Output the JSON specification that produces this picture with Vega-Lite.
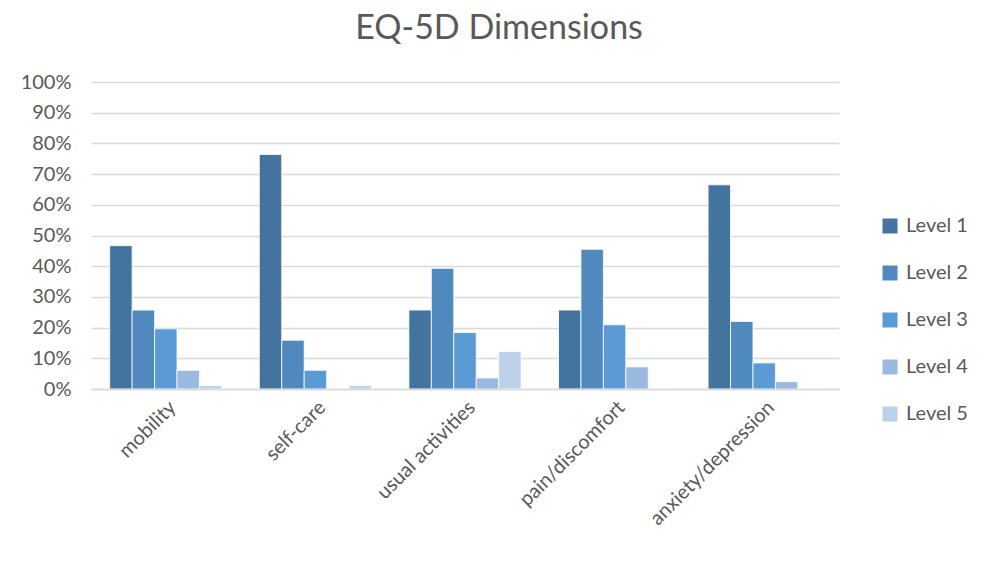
{
  "$schema": "https://vega.github.io/schema/vega-lite/v6.json",
  "width": 748,
  "height": 307,
  "padding": {"left": 20, "top": 12, "right": 5, "bottom": 5},
  "background": "white",
  "title": {"text": "EQ-5D Dimensions", "fontSize": 34, "font": "Lato", "fontWeight": "normal", "color": "#595959", "offset": 26, "dx": 34},
  "config": {"view": {"stroke": null}, "font": "Lato"},
  "data": {"values": [
    {"dim": "mobility", "level": "Level 1", "v": 0.467},
    {"dim": "mobility", "level": "Level 2", "v": 0.257},
    {"dim": "mobility", "level": "Level 3", "v": 0.196},
    {"dim": "mobility", "level": "Level 4", "v": 0.061},
    {"dim": "mobility", "level": "Level 5", "v": 0.011},
    {"dim": "self-care", "level": "Level 1", "v": 0.764},
    {"dim": "self-care", "level": "Level 2", "v": 0.159},
    {"dim": "self-care", "level": "Level 3", "v": 0.061},
    {"dim": "self-care", "level": "Level 4", "v": 0},
    {"dim": "self-care", "level": "Level 5", "v": 0.011},
    {"dim": "usual activities", "level": "Level 1", "v": 0.257},
    {"dim": "usual activities", "level": "Level 2", "v": 0.393},
    {"dim": "usual activities", "level": "Level 3", "v": 0.184},
    {"dim": "usual activities", "level": "Level 4", "v": 0.036},
    {"dim": "usual activities", "level": "Level 5", "v": 0.122},
    {"dim": "pain/discomfort", "level": "Level 1", "v": 0.257},
    {"dim": "pain/discomfort", "level": "Level 2", "v": 0.455},
    {"dim": "pain/discomfort", "level": "Level 3", "v": 0.209},
    {"dim": "pain/discomfort", "level": "Level 4", "v": 0.072},
    {"dim": "pain/discomfort", "level": "Level 5", "v": 0},
    {"dim": "anxiety/depression", "level": "Level 1", "v": 0.665},
    {"dim": "anxiety/depression", "level": "Level 2", "v": 0.220},
    {"dim": "anxiety/depression", "level": "Level 3", "v": 0.085},
    {"dim": "anxiety/depression", "level": "Level 4", "v": 0.024},
    {"dim": "anxiety/depression", "level": "Level 5", "v": 0}
  ]},
  "mark": {"type": "bar", "stroke": "white", "strokeWidth": 0.8},
  "encoding": {
    "x": {
      "field": "dim", "type": "nominal", "sort": null, "title": null,
      "scale": {"paddingInner": 0.25, "paddingOuter": 0.125},
      "axis": {"labelAngle": -45, "labelFontSize": 20, "labelColor": "#595959", "ticks": false, "domainColor": "#D9D9D9", "domainWidth": 1.5, "labelPadding": 8, "labelFont": "Lato", "labelOverlap": false, "zindex": 1}
    },
    "xOffset": {"field": "level", "type": "nominal", "sort": null},
    "y": {
      "field": "v", "type": "quantitative", "title": null,
      "scale": {"domain": [0, 1]},
      "axis": {"format": ".0%", "values": [0,0.1,0.2,0.3,0.4,0.5,0.6,0.7,0.8,0.9,1], "labelOverlap": false, "labelFontSize": 20, "labelColor": "#595959", "ticks": false, "domain": false, "gridColor": "#D9D9D9", "gridWidth": 1.5, "labelPadding": 20, "labelFont": "Lato"}
    },
    "color": {
      "field": "level", "type": "nominal", "title": null,
      "scale": {"domain": ["Level 1", "Level 2", "Level 3", "Level 4", "Level 5"], "range": ["#43739F", "#4F89BD", "#5B9BD5", "#9AB9E0", "#BDD1EA"]},
      "legend": {"orient": "none", "legendX": 789, "legendY": 134, "symbolType": "square", "symbolSize": 225, "symbolStrokeWidth": 0, "labelFontSize": 20, "labelColor": "#595959", "rowPadding": 27, "labelOffset": 6, "labelFont": "Lato"}
    }
  }
}
